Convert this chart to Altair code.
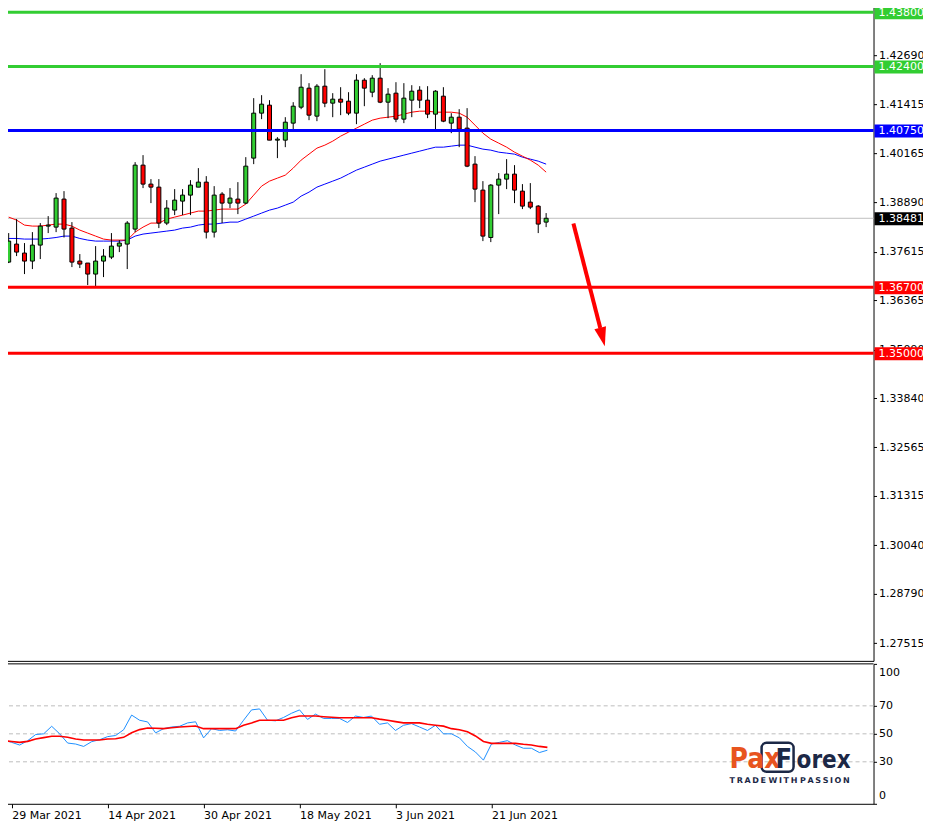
import altair as alt
import pandas as pd

# ---------------- data ----------------
dates = [d.strftime("%-d %b %Y") for d in pd.bdate_range("2021-03-26", periods=69)]

open_ = [1.37350, 1.37815, 1.37583, 1.37376, 1.37789, 1.38279, 1.38253, 1.38976, 1.38228, 1.37376,
         1.37325, 1.37041, 1.37376, 1.37479, 1.37763, 1.37815, 1.38202, 1.39853, 1.39363, 1.39285,
         1.38357, 1.38692, 1.38924, 1.39079, 1.39285, 1.39414, 1.38124, 1.39105, 1.38873, 1.38976,
         1.38873, 1.40034, 1.41195, 1.41401, 1.40498, 1.40498, 1.40937, 1.41349, 1.41840, 1.41117,
         1.41891, 1.41453, 1.41556, 1.41504, 1.41195, 1.42046, 1.41736, 1.42098, 1.41478, 1.41711,
         1.41040, 1.41530, 1.41788, 1.41530, 1.41169, 1.41633, 1.40937, 1.41091, 1.40808, 1.39879,
         1.39208, 1.37985, 1.39337, 1.39492, 1.39621, 1.39182, 1.38898, 1.38795, 1.38382]
high = [1.38099, 1.38460, 1.37841, 1.38124, 1.38357, 1.38537, 1.39131, 1.39182, 1.38382, 1.37557,
        1.37325, 1.37763, 1.37686, 1.38099, 1.37918, 1.38408, 1.39930, 1.40111, 1.39492, 1.39492,
        1.38950, 1.39234, 1.39234, 1.39466, 1.39776, 1.39569, 1.39311, 1.39156, 1.39260, 1.39414,
        1.40059, 1.41582, 1.41659, 1.41530, 1.40575, 1.41091, 1.41478, 1.42201, 1.41969, 1.41943,
        1.42330, 1.41711, 1.41865, 1.41736, 1.42201, 1.42098, 1.42175, 1.42485, 1.41840, 1.41994,
        1.41969, 1.41917, 1.41891, 1.41891, 1.41788, 1.41865, 1.41195, 1.41298, 1.41324, 1.40085,
        1.39440, 1.39363, 1.39647, 1.40008, 1.39853, 1.39363, 1.39389, 1.38821, 1.38615]
low = [1.37325, 1.37505, 1.37041, 1.37170, 1.37428, 1.38099, 1.38124, 1.37985, 1.37221, 1.37196,
       1.36757, 1.36731, 1.36963, 1.37428, 1.37608, 1.37170, 1.38124, 1.39260, 1.38873, 1.38228,
       1.38305, 1.38563, 1.38563, 1.38563, 1.39285, 1.37960, 1.37985, 1.38357, 1.38744, 1.38589,
       1.38847, 1.39879, 1.41040, 1.40498, 1.40034, 1.40317, 1.40756, 1.41298, 1.41014, 1.40988,
       1.41349, 1.41091, 1.41143, 1.41143, 1.40911, 1.41375, 1.41607, 1.41453, 1.41066, 1.40962,
       1.40937, 1.41091, 1.41324, 1.41066, 1.40782, 1.40962, 1.40679, 1.40317, 1.39801, 1.38898,
       1.37892, 1.37866, 1.38589, 1.39234, 1.38873, 1.38718, 1.38718, 1.38099, 1.38253]
close = [1.37892, 1.37608, 1.37376, 1.37789, 1.38279, 1.38305, 1.39002, 1.38202, 1.37350, 1.37299,
         1.37041, 1.37376, 1.37505, 1.37763, 1.37841, 1.38357, 1.39853, 1.39363, 1.39285, 1.38357,
         1.38744, 1.38950, 1.39079, 1.39337, 1.39414, 1.38124, 1.39079, 1.38873, 1.39002, 1.38873,
         1.39827, 1.41195, 1.41427, 1.40498, 1.40524, 1.40962, 1.41375, 1.41865, 1.41143, 1.41891,
         1.41453, 1.41556, 1.41478, 1.41195, 1.42046, 1.41840, 1.42098, 1.41478, 1.41685, 1.41040,
         1.41582, 1.41762, 1.41530, 1.41169, 1.41762, 1.40988, 1.41091, 1.40782, 1.39827, 1.39234,
         1.38021, 1.39337, 1.39492, 1.39621, 1.39208, 1.38795, 1.38769, 1.38331, 1.38481]

ma_fast = [1.38511, 1.38434, 1.38305, 1.38279, 1.38279, 1.38305, 1.38331, 1.38331, 1.38279, 1.38176,
           1.38099, 1.38021, 1.37944, 1.37918, 1.37918, 1.37918, 1.38124, 1.38253, 1.38357, 1.38357,
           1.38460, 1.38511, 1.38563, 1.38615, 1.38666, 1.38666, 1.38692, 1.38718, 1.38718, 1.38718,
           1.38847, 1.39079, 1.39311, 1.39440, 1.39518, 1.39595, 1.39776, 1.39982, 1.40137, 1.40292,
           1.40369, 1.40472, 1.40601, 1.40704, 1.40808, 1.40911, 1.41014, 1.41066, 1.41091, 1.41117,
           1.41169, 1.41220, 1.41246, 1.41246, 1.41220, 1.41220, 1.41220, 1.41195, 1.41091, 1.40885,
           1.40679, 1.40524, 1.40421, 1.40317, 1.40188, 1.40085, 1.39982, 1.39853, 1.39672]
ma_slow = [1.37960, 1.37960, 1.37944, 1.37944, 1.37944, 1.37960, 1.37985, 1.38021, 1.38021, 1.37960,
           1.37918, 1.37892, 1.37892, 1.37892, 1.37892, 1.37918, 1.38021, 1.38073, 1.38099, 1.38124,
           1.38150, 1.38176, 1.38228, 1.38253, 1.38305, 1.38331, 1.38331, 1.38357, 1.38382, 1.38382,
           1.38460, 1.38537, 1.38615, 1.38692, 1.38744, 1.38821, 1.38898, 1.39053, 1.39156, 1.39285,
           1.39363, 1.39440, 1.39518, 1.39621, 1.39724, 1.39801, 1.39879, 1.39956, 1.40008, 1.40059,
           1.40111, 1.40163, 1.40214, 1.40266, 1.40317, 1.40317, 1.40343, 1.40369, 1.40369, 1.40317,
           1.40266, 1.40240, 1.40188, 1.40163, 1.40137, 1.40059, 1.40008, 1.39956, 1.39879]

rsi = [45.6, 43.9, 42.0, 45.1, 49.5, 50.0, 55.4, 50.0, 43.4, 42.7,
       41.0, 44.4, 45.8, 48.0, 48.8, 52.9, 63.4, 59.7, 58.5, 50.7,
       53.7, 54.9, 55.4, 57.8, 58.6, 47.1, 53.7, 52.4, 52.9, 52.0,
       59.7, 67.1, 67.8, 59.7, 59.3, 61.7, 64.7, 67.1, 60.3, 64.1,
       61.0, 61.0, 61.0, 58.1, 62.7, 61.7, 62.7, 56.8, 57.8, 52.4,
       56.1, 57.3, 54.9, 52.4, 56.1, 50.0, 50.0, 47.1, 41.0, 37.0,
       31.2, 42.7, 43.9, 45.1, 42.0, 39.7, 39.7, 36.6, 38.3]
rsi_signal = [45.1, 44.5, 43.9, 44.6, 46.3, 47.3, 48.3, 48.3, 47.5, 46.3,
              45.6, 45.6, 45.6, 46.3, 46.5, 47.5, 50.7, 53.0, 54.2, 54.0,
              53.7, 54.3, 54.9, 55.2, 55.6, 53.7, 53.7, 53.7, 53.7, 53.7,
              56.1, 57.8, 59.7, 59.7, 59.7, 59.7, 61.5, 62.7, 62.7, 62.7,
              62.2, 61.8, 61.5, 61.5, 61.5, 61.5, 61.5, 60.5, 59.7, 58.7,
              57.8, 57.8, 57.8, 56.8, 56.1, 55.5, 53.7, 52.9, 51.5, 48.5,
              44.5, 43.2, 43.2, 43.2, 43.2, 42.5, 42.0, 41.0, 40.3]

levels = [1.43800, 1.42400, 1.40750, 1.36700, 1.35000]
level_colors = ["#32CD32", "#32CD32", "#0000FF", "#FF0000", "#FF0000"]
current_price = 1.38481
price_ticks = [1.43940, 1.42690, 1.41415, 1.40165, 1.38890, 1.37615, 1.36365,
               1.35090, 1.33840, 1.32565, 1.31315, 1.30040, 1.28790, 1.27515]
rsi_ticks = [0, 30, 50, 70, 100]
rsi_levels = [30, 50, 70]
date_tick_bars = [1, 13, 25, 37, 49, 61]
arrow_start = [71.45, 1.38349]
arrow_end = [74.85, 1.35648]
arrow_head = [75.13, 1.35416]

# ---------------- tables ----------------
n = len(close)
cdf = pd.DataFrame({"i": list(range(n)), "open": open_, "high": high, "low": low,
                    "close": close, "fast": ma_fast, "slow": ma_slow,
                    "rsi": rsi, "sig": rsi_signal, "date": dates})
ldf = pd.DataFrame({"price": levels, "color": level_colors})
bdf = pd.DataFrame({"price": levels + [current_price],
                    "color": level_colors + ["#000000"]})
bdf["label"] = [f"{p:.5f}" for p in bdf["price"]]
adf = pd.DataFrame({"i0": [arrow_start[0]], "p0": [arrow_start[1]],
                    "i1": [arrow_end[0]], "p1": [arrow_end[1]]})
hdf = pd.DataFrame({"i": [arrow_head[0]], "p": [arrow_head[1]]})
one = pd.DataFrame({"a": [0]})

GREEN = "#32CD32"
RED = "#FF0000"
FONT = "DejaVu Sans"

x_scale = alt.Scale(domain=[-0.2125, 108.79], nice=False, zero=False)
y_scale = alt.Scale(domain=[1.27056, 1.44110], nice=False, zero=False)
r_scale = alt.Scale(domain=[0, 100], nice=False, zero=False)

main_x_axis = alt.Axis(labels=False, ticks=False, grid=False, domain=True,
                       domainColor="black", title=None)
main_y_axis = alt.Axis(orient="right", values=price_ticks, format=".5f", grid=False,
                       title=None, tickSize=3, tickColor="black", domainColor="black",
                       labelColor="black", labelPadding=2, labelFontSize=11,
                       labelFont=FONT, labelFlush=False, labelOverlap=False, zindex=0)

date_expr = " : ".join(f"datum.value == {b} ? '{dates[b]}'" for b in date_tick_bars) + " : ''"
rsi_x_axis = alt.Axis(values=date_tick_bars, labelExpr=date_expr, labelAlign="left",
                      tickSize=4, tickColor="black", domainColor="black", labelColor="black",
                      title=None, grid=False, labelPadding=2, labelFontSize=11,
                      labelFont=FONT, labelOverlap=False, labelFlush=False)
rsi_y_axis = alt.Axis(orient="right", values=rsi_ticks, labelFlush=True, labelFlushOffset=-3,
                      title=None, grid=False, tickSize=3, tickColor="black",
                      domainColor="black", labelColor="black", labelPadding=2,
                      labelFontSize=11, labelFont=FONT)


def mx(f):
    return alt.X(f, type="quantitative", scale=x_scale, axis=main_x_axis)


def my(f):
    return alt.Y(f, type="quantitative", scale=y_scale, axis=main_y_axis)


def rx(f):
    return alt.X(f, type="quantitative", scale=x_scale, axis=rsi_x_axis)


def ry(f):
    return alt.Y(f, type="quantitative", scale=r_scale, axis=rsi_y_axis)


# ---------------- main panel ----------------
base = alt.Chart(cdf)
slow_line = base.mark_line(color="#0000FF", strokeWidth=1).encode(x=mx("i"), y=my("slow"))
fast_line = base.mark_line(color=RED, strokeWidth=1).encode(x=mx("i"), y=my("fast"))
current = alt.Chart(pd.DataFrame({"price": [current_price]})).mark_rule(
    color="#C0C0C0", strokeWidth=1).encode(y=my("price"))
wicks = base.mark_rule(color="black", strokeWidth=1).encode(x=mx("i"), y=my("low"), y2="high")
bodies = base.mark_bar(width=4, stroke="black", strokeWidth=1).encode(
    x=mx("i"), y=my("open"), y2="close",
    fill=alt.condition("datum.close >= datum.open", alt.value(GREEN), alt.value(RED)))
level_rules = alt.Chart(ldf).mark_rule(strokeWidth=3).encode(
    y=my("price"), color=alt.Color("color:N", scale=None))
arrow = alt.Chart(adf).mark_rule(color=RED, strokeWidth=4).encode(
    x=mx("i0"), x2="i1", y=my("p0"), y2="p1")
head = alt.Chart(hdf).mark_point(shape="M0,1L-0.63,-1L0.63,-1Z", filled=True, color=RED,
                                 size=361, angle=346, opacity=1).encode(x=mx("i"), y=my("p"))
boxes = alt.Chart(bdf).mark_rect(yOffset=-6, y2Offset=7).encode(
    x=alt.value(873), x2=alt.value(923), y=my("price"), y2="price",
    color=alt.Color("color:N", scale=None))
box_text = alt.Chart(bdf).mark_text(align="left", baseline="middle", color="white",
                                    fontSize=11, font=FONT, dy=1).encode(
    x=alt.value(877), y=my("price"), text="label:N")

main = alt.layer(current, slow_line, fast_line, wicks, bodies, level_rules, arrow, head,
                 boxes, box_text).properties(width=872, height=661)

# ---------------- RSI panel ----------------
rlevels = alt.Chart(pd.DataFrame({"lv": rsi_levels})).mark_rule(
    color="#BDBDBD", strokeDash=[4, 3], strokeWidth=1).encode(y=ry("lv"))
rsi_line = base.mark_line(color="#1E90FF", strokeWidth=1).encode(x=rx("i"), y=ry("rsi"))
sig_line = base.mark_line(color=RED, strokeWidth=1.6).encode(x=rx("i"), y=ry("sig"))
top_border = alt.Chart(one).mark_rule(color="black", strokeWidth=1).encode(y=alt.value(0))

LOGO_FONT = "Liberation Sans Narrow, DejaVu Sans Condensed, Roboto"
ORANGE = "#E8541E"
NAVY = "#1C2846"
logo_box = alt.Chart(one).mark_rect(fillOpacity=0, stroke=NAVY, strokeWidth=2.5,
                                    cornerRadius=5).encode(
    x=alt.value(760), x2=alt.value(792), y=alt.value(79), y2=alt.value(108))
logo_pax = alt.Chart(one).mark_text(text="Pax", font=LOGO_FONT, fontSize=28, fontWeight="bold",
                                    color=ORANGE, align="left", baseline="alphabetic").encode(
    x=alt.value(728), y=alt.value(104))
logo_f = alt.Chart(one).mark_text(text="F", font=LOGO_FONT, fontSize=27, fontWeight="bold",
                                  color=NAVY, align="left", baseline="alphabetic").encode(
    x=alt.value(774), y=alt.value(104))
logo_orex = alt.Chart(one).mark_text(text="orex", font=LOGO_FONT, fontSize=24, fontWeight="bold",
                                     color=NAVY, align="left", baseline="alphabetic").encode(
    x=alt.value(795), y=alt.value(104))
tagline = alt.Chart(one).mark_text(text="T\u2009R\u2009A\u2009D\u2009E  W\u2009I\u2009T\u2009H  P\u2009A\u2009S\u2009S\u2009I\u2009O\u2009N",
                                   font=FONT, fontSize=8, fontWeight="bold", color=NAVY,
                                   align="left", baseline="middle").encode(
    x=alt.value(728), y=alt.value(117))

rsi_panel = alt.layer(rlevels, rsi_line, sig_line, top_border, logo_box, logo_pax, logo_f,
                      logo_orex, tagline).properties(width=872, height=140)

chart = alt.vconcat(main, rsi_panel, spacing=2).properties(
    padding={"left": -8, "top": -8, "right": -1.5, "bottom": 0},
    background="white",
).configure_view(stroke=None)

chart.save("out.html", embed_options={"renderer": "svg", "actions": False})
